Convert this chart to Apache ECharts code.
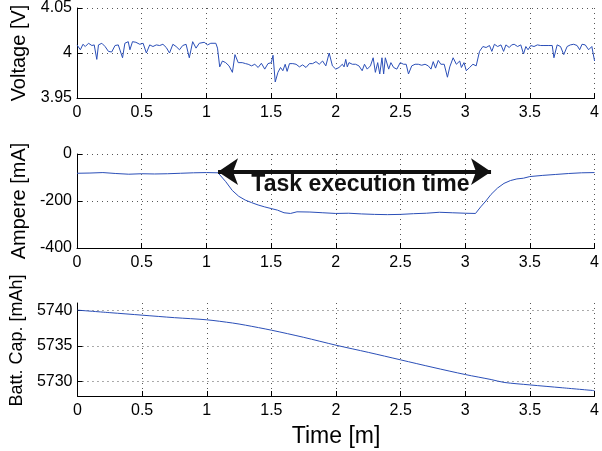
<!DOCTYPE html>
<html>
<head>
<meta charset="utf-8">
<title>Voltage / Ampere / Battery capacity</title>
<script src="https://cdn.jsdelivr.net/npm/echarts@6/dist/echarts.min.js"></script>
<style>
  html, body { margin: 0; padding: 0; background: #fff; }
  #chart { width: 602px; height: 451px; }
</style>
</head>
<body>
<div id="chart"></div>
<script>
// time [m] + values
const voltTime = [
  0.000, 0.026, 0.046, 0.064, 0.089, 0.115, 0.133, 0.153, 0.166, 0.192,
  0.217, 0.243, 0.268, 0.294, 0.319, 0.352, 0.370, 0.396, 0.409, 0.429,
  0.455, 0.485, 0.511, 0.536, 0.562, 0.587, 0.613, 0.639, 0.664, 0.690,
  0.715, 0.741, 0.766, 0.792, 0.817, 0.843, 0.868, 0.894, 0.920, 0.945,
  0.983, 1.009, 1.034, 1.073, 1.086, 1.103, 1.124, 1.149, 1.175, 1.201,
  1.221, 1.246, 1.277, 1.303, 1.323, 1.349, 1.374, 1.400, 1.425, 1.451,
  1.476, 1.502, 1.515, 1.532, 1.553, 1.573, 1.591, 1.609, 1.624, 1.642,
  1.668, 1.693, 1.719, 1.744, 1.770, 1.796, 1.821, 1.847, 1.872, 1.898,
  1.923, 1.949, 1.974, 2.000, 2.025, 2.051, 2.064, 2.077, 2.089, 2.102,
  2.128, 2.153, 2.179, 2.204, 2.222, 2.243, 2.268, 2.289, 2.306, 2.324,
  2.340, 2.357, 2.370, 2.383, 2.409, 2.426, 2.447, 2.472, 2.498, 2.524,
  2.544, 2.562, 2.587, 2.613, 2.638, 2.664, 2.690, 2.715, 2.736, 2.753,
  2.771, 2.792, 2.812, 2.838, 2.863, 2.881, 2.907, 2.932, 2.958, 2.971,
  2.991, 3.009, 3.034, 3.060, 3.085, 3.111, 3.137, 3.162, 3.188, 3.206,
  3.226, 3.251, 3.277, 3.297, 3.315, 3.341, 3.359, 3.379, 3.405, 3.430,
  3.451, 3.469, 3.486, 3.507, 3.532, 3.558, 3.584, 3.609, 3.647, 3.673,
  3.686, 3.711, 3.737, 3.762, 3.788, 3.813, 3.839, 3.865, 3.885, 3.903,
  3.928, 3.954, 3.979, 3.992, 4.000
];
const voltValue = [
  4.0090, 4.0036, 4.0097, 4.0072, 4.0108, 4.0083, 4.0090, 3.9929, 4.0090, 4.0108,
  4.0072, 4.0018, 4.0011, 4.0083, 4.0090, 3.9947, 4.0108, 4.0126, 4.0036, 4.0126,
  4.0119, 4.0097, 4.0108, 4.0000, 4.0090, 4.0072, 4.0090, 4.0083, 4.0097, 4.0061,
  4.0000, 4.0097, 4.0072, 4.0036, 4.0083, 4.0097, 3.9947, 4.0126, 4.0054, 4.0108,
  4.0119, 4.0090, 4.0108, 4.0108, 4.0054, 3.9846, 3.9911, 3.9893, 3.9857, 3.9785,
  3.9982, 3.9893, 3.9893, 3.9882, 3.9875, 3.9857, 3.9875, 3.9839, 3.9886, 3.9821,
  3.9882, 3.9893, 3.9975, 3.9678, 3.9785, 3.9839, 3.9803, 3.9875, 3.9796, 3.9882,
  3.9882, 3.9875, 3.9846, 3.9868, 3.9839, 3.9882, 3.9882, 3.9904, 3.9875, 3.9911,
  3.9857, 4.0000, 3.9857, 3.9821, 3.9839, 3.9875, 3.9846, 3.9929, 3.9846, 3.9893,
  3.9875, 3.9875, 3.9857, 3.9803, 3.9875, 3.9821, 3.9857, 3.9947, 3.9785, 3.9893,
  3.9767, 3.9947, 3.9767, 3.9947, 3.9821, 3.9893, 3.9839, 3.9821, 3.9893, 3.9875,
  3.9875, 3.9767, 3.9857, 3.9875, 3.9875, 3.9864, 3.9875, 3.9857, 3.9821, 3.9904,
  3.9832, 3.9918, 3.9875, 3.9875, 3.9731, 3.9846, 3.9947, 3.9875, 3.9911, 3.9839,
  3.9893, 3.9803, 3.9839, 3.9875, 3.9857, 4.0018, 4.0072, 4.0061, 4.0083, 4.0018,
  4.0097, 4.0072, 4.0090, 4.0018, 4.0090, 4.0061, 4.0090, 4.0097, 4.0072, 4.0090,
  3.9989, 4.0072, 4.0036, 4.0083, 4.0072, 4.0090, 4.0083, 4.0083, 4.0083, 4.0083,
  3.9947, 4.0090, 4.0072, 3.9982, 4.0072, 4.0090, 4.0097, 4.0083, 4.0036, 4.0097,
  4.0090, 4.0036, 4.0072, 4.0054, 3.9911
];

const ampTime = [
  0, 0.1, 0.2, 0.3, 0.4, 0.5, 0.6, 0.7, 0.8, 0.9, 1.0, 1.09, 1.15, 1.2, 1.25,
  1.3, 1.35, 1.4, 1.45, 1.5, 1.55, 1.6, 1.65, 1.7, 1.8, 1.9, 2.0, 2.1, 2.2, 2.3,
  2.4, 2.5, 2.6, 2.7, 2.8, 2.9, 3.0, 3.08, 3.12, 3.16, 3.2, 3.25, 3.3, 3.35, 3.4,
  3.45, 3.5, 3.6, 3.7, 3.8, 3.9, 4.0
];
const ampValue = [
  -82, -81, -79, -83, -86, -84, -85, -84, -82, -80, -79, -80, -118, -155, -180,
  -196, -207, -217, -225, -232, -239, -250, -253, -246, -247, -250, -253, -252, -255, -257,
  -258, -257, -254, -252, -248, -250, -252, -253, -225, -200, -172, -145, -125, -113, -106,
  -103, -96, -91, -87, -83, -80, -79
];

const capTime = [0, 0.25, 0.5, 0.75, 1.0, 1.2, 1.3, 1.5, 1.75, 2.0, 2.25, 2.5, 2.75, 3.0, 3.2, 3.3, 3.5, 3.75, 4.0];
const capValue = [
  5740.0, 5739.65, 5739.3, 5738.95, 5738.65, 5738.2, 5737.9, 5737.2, 5736.2, 5735.1,
  5734.1, 5733.05, 5732.0, 5731.0, 5730.3, 5729.9, 5729.55, 5729.15, 5728.75
];
const capTicks = [5730, 5735, 5740];

// annotation on the current plot
const arrowStart = [1.09, -75];
const arrowEnd = [3.2, -75];
const taskLabel = 'Task execution time';
const taskLabelAt = [2.19, -131];

const font = 'Liberation Sans, Arial, Helvetica, sans-serif';
const lineColor = '#2b4fb8';

function pairs(xs, ys) {
  return xs.map((x, i) => [x, ys[i]]);
}

const gridLine = { show: true, lineStyle: { color: '#555', width: 1, type: [1, 4] } };
const plain = v => String(v);

function xAx(idx, name) {
  return {
    type: 'value', gridIndex: idx, min: 0, max: 4, interval: 0.5,
    axisLine: { onZero: false, lineStyle: { color: '#000', width: 1 } },
    axisTick: { inside: true, length: 5, lineStyle: { color: '#000' } },
    axisLabel: { color: '#000', fontSize: 16, fontFamily: font, margin: 7, formatter: plain },
    splitLine: gridLine,
    name: name || '', nameLocation: 'middle', nameGap: 29,
    nameTextStyle: { color: '#000', fontSize: 23, fontFamily: font }
  };
}

function yAx(idx, name, extra, nameStyle) {
  return Object.assign({
    type: 'value', gridIndex: idx,
    axisLine: { show: true, onZero: false, lineStyle: { color: '#000', width: 1 } },
    axisTick: { show: true, inside: true, length: 5, lineStyle: { color: '#000' } },
    axisLabel: { color: '#000', fontSize: 16, fontFamily: font, margin: 5, formatter: plain },
    splitLine: gridLine,
    name: name, nameLocation: 'middle', nameGap: 47,
    nameTextStyle: Object.assign({ color: '#000', fontSize: 20, fontFamily: font }, nameStyle)
  }, extra);
}

const chart = echarts.init(document.getElementById('chart'));
chart.setOption({
  animation: false,
  backgroundColor: '#fff',
  grid: [
    { left: 77, right: 3, top: 5, height: 93 },
    { left: 77, right: 3, top: 154, height: 94 },
    { left: 77, right: 3, top: 303, height: 93 }
  ],
  xAxis: [xAx(0), xAx(1), xAx(2, 'Time [m]')],
  yAxis: [
    yAx(0, 'Voltage [V]', { min: 3.95, max: 4.05, interval: 0.05 }),
    yAx(1, 'Ampere [mA]', { min: -400, max: 0, interval: 200 }),
    yAx(2, 'Batt. Cap. [mAh]', {
      min: 5728, max: 5741,
      axisTick: { show: true, inside: true, length: 5, lineStyle: { color: '#000' }, customValues: capTicks },
      axisLabel: { color: '#000', fontSize: 16, fontFamily: font, margin: 5, formatter: plain, customValues: capTicks }
    }, { fontSize: 18, padding: [0, 0, 0, 18] })
  ],
  series: [
    {
      type: 'line', xAxisIndex: 0, yAxisIndex: 0, showSymbol: false, silent: true,
      lineStyle: { color: lineColor, width: 1 },
      data: pairs(voltTime, voltValue)
    },
    {
      type: 'line', xAxisIndex: 1, yAxisIndex: 1, showSymbol: false, silent: true,
      lineStyle: { color: lineColor, width: 1 },
      data: pairs(ampTime, ampValue),
      markLine: {
        silent: true, symbol: ['arrow', 'arrow'], symbolSize: [20, 20],
        lineStyle: { color: '#111', width: 4, type: 'solid' },
        label: { show: false },
        data: [[{ coord: arrowStart }, { coord: arrowEnd }]]
      },
      markPoint: {
        silent: true, symbol: 'rect', symbolSize: 1,
        itemStyle: { color: 'rgba(0,0,0,0)' },
        label: {
          show: true, position: 'inside', formatter: taskLabel,
          color: '#111', fontSize: 23, fontWeight: 'bold', fontFamily: font
        },
        data: [{ coord: taskLabelAt }]
      }
    },
    {
      type: 'line', xAxisIndex: 2, yAxisIndex: 2, showSymbol: false, silent: true,
      smooth: 0.3,
      lineStyle: { color: lineColor, width: 1 },
      data: pairs(capTime, capValue)
    }
  ]
});
</script>
</body>
</html>
